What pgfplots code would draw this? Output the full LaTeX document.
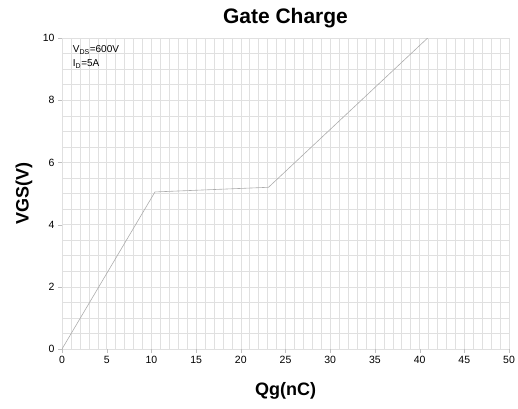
\documentclass[border=0pt]{standalone}
\usepackage{fontspec}
\setmainfont{Liberation Sans}
\usepackage{pgfplots}
\pgfplotsset{compat=1.18}

\begin{document}
\begin{tikzpicture}
\useasboundingbox (-62pt,-59pt) rectangle (456pt,349pt);
\begin{axis}[
  at={(0,0)}, anchor=south west,
  scale only axis,
  width=447pt, height=311pt,
  xmin=0, xmax=50, ymin=0, ymax=10,
  xtick={0,5,...,50}, ytick={0,2,...,10},
  minor x tick num=4, minor y tick num=3,
  grid=both,
  major grid style={gray!24, line width=0.5pt},
  minor grid style={gray!24, line width=0.5pt},
  axis line style={draw=none},
  tick style={gray!50},
  major tick length=4pt, minor tick length=0pt,
  tick align=outside,
  xtick pos=bottom, ytick pos=left,
  /pgf/number format/assume math mode=true,
  tick label style={font=\fontsize{10.5}{12}\selectfont},
  title={\bfseries Gate Charge},
  title style={font=\fontsize{21}{24}\selectfont, at={(axis description cs:0.5,1.0707)}, anchor=center, yshift=-8pt},
  xlabel={\bfseries Qg(nC)},
  ylabel={\bfseries VGS(V)},
  label style={font=\fontsize{18}{20}\selectfont},
  xlabel style={at={(axis description cs:0.5,-0.135)}, anchor=center},
  ylabel style={at={(axis description cs:-0.085,0.5)}, anchor=center},
]
\addplot[gray!65, line width=0.6pt] coordinates
  {(0,0) (10.4,5.05) (23.1,5.2) (40.9,10)};
\node[anchor=base west, inner sep=0pt, font=\fontsize{10}{12}\selectfont]
  at (axis cs:1.2,9.52) {V\textsubscript{DS}=600V};
\node[anchor=base west, inner sep=0pt, font=\fontsize{10}{12}\selectfont]
  at (axis cs:1.2,9.07) {I\textsubscript{D}=5A};
\end{axis}
\end{tikzpicture}
\end{document}
